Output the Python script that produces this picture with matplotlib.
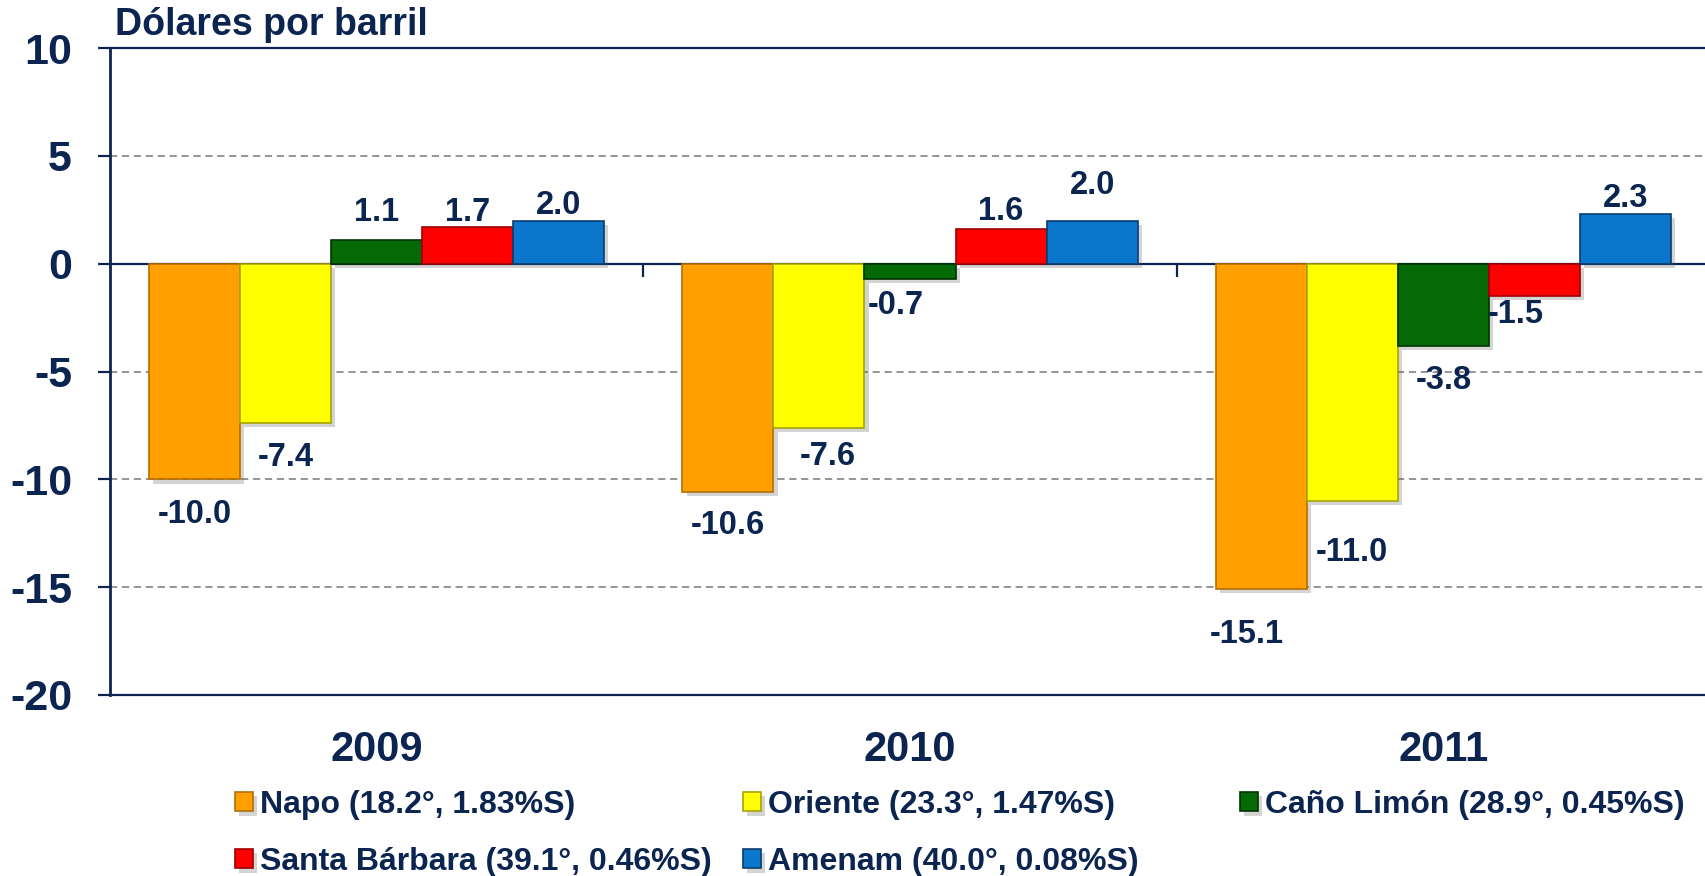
import matplotlib.pyplot as plt
import matplotlib.patheffects as pe
import numpy as np

plt.rcParams['font.family'] = ['Liberation Sans', 'DejaVu Sans']
plt.rcParams['font.weight'] = 'bold'

# data (USD per barrel, differential vs reference)
years = ['2009', '2010', '2011']
crudes = ['Napo (18.2°, 1.83%S)', 'Oriente (23.3°, 1.47%S)',
          'Caño Limón (28.9°, 0.45%S)', 'Santa Bárbara (39.1°, 0.46%S)',
          'Amenam (40.0°, 0.08%S)']
napo = [-10.0, -10.6, -15.1]
oriente = [-7.4, -7.6, -11.0]
cano_limon = [1.1, -0.7, -3.8]
santa_barbara = [1.7, 1.6, -1.5]
amenam = [2.0, 2.0, 2.3]
series = [napo, oriente, cano_limon, santa_barbara, amenam]

# styling
navy = '#0b2550'
colors = ['#ffa000', '#ffff00', '#056905', '#ff0000', '#0a76cc']
edges = ['#b36f00', '#a5a500', '#003300', '#a00000', '#0a3d6e']

# label nudges in pixels: (dx, distance of baseline from bar end)
nudges = [
    [(0, 44), (0, 42), (-14, 54)],
    [(0, 43), (9, 37), (0, 60)],
    [(0, 19), (-14, 35), (0, 43)],
    [(0, 6), (0, 9), (-19, 27)],
    [(0, 7), (0, 27), (0, 7)],
]

W, H = 1705, 876
fig = plt.figure(figsize=(W / 100, H / 100), dpi=100)
ax = fig.add_axes([110 / W, 1 - 695 / H, 1600 / W, (695 - 48) / H])

x = np.arange(len(years))
w = 91 / 533
handles = []
for j, vals in enumerate(series):
    pos = x + (j - 2) * w
    bc = ax.bar(pos, vals, width=w, color=colors[j], edgecolor=edges[j],
                linewidth=1.2, zorder=3)
    for p in bc.patches:
        p.set_path_effects([pe.SimplePatchShadow(offset=(3, -3), alpha=0.25,
                                                 shadow_rgbFace='#555555'),
                            pe.Normal()])
    handles.append(bc)
    for i, v in enumerate(vals):
        dx, dy = nudges[j][i]
        off = dy if v > 0 else -dy
        ax.annotate(f'{v:.1f}', (pos[i], v), xytext=(dx, off),
                    textcoords='offset pixels', ha='center', va='baseline',
                    fontsize=23.5, color=navy, fontweight='bold', zorder=5)

ax.set_xlim(-0.5, 2.5)
ax.set_ylim(-20, 10)
ax.set_yticks(np.arange(-20, 11, 5))
ax.set_yticklabels([str(t) for t in range(-20, 11, 5)])
for g in [-15, -10, -5, 5]:
    ax.axhline(g, color='#8c8c8c', lw=1.3, ls=(0, (4, 2.6)), zorder=1)
ax.axhline(-20, color=navy, lw=1.6, clip_on=False, zorder=2)

ax.spines['right'].set_visible(False)
ax.spines['top'].set_color(navy)
ax.spines['top'].set_linewidth(1.6)
ax.spines['left'].set_color(navy)
ax.spines['left'].set_linewidth(2)
ax.spines['bottom'].set_position(('data', 0))
ax.spines['bottom'].set_color(navy)
ax.spines['bottom'].set_linewidth(1.6)
ax.spines['bottom'].set_zorder(2)

ax.set_xticks([0.5, 1.5])
ax.set_xticklabels([])
ax.tick_params(axis='x', direction='out', length=9.4, width=1.6, color=navy)
ax.tick_params(axis='y', direction='out', length=8.6, width=1.6, color=navy,
               pad=18.7, labelsize=31, labelcolor=navy)
for t in ax.get_yticklabels():
    t.set_fontweight('bold')

# category labels under the plot
for i, yr in enumerate(years):
    ax.text(i, -0.102, yr, transform=ax.get_xaxis_transform(), ha='center',
            va='baseline', fontsize=30, color=navy, fontweight='bold')

fig.text(115 / W, 1 - 35 / H, 'Dólares por barril', va='baseline',
         fontsize=27, color=navy, fontweight='bold')

# legend entries placed like the original
leg_pos = [(235, 805), (743, 805), (1240, 805), (235, 862), (743, 862)]
for bc, name, (lx, ly) in zip(handles, crudes, leg_pos):
    fig.legend([bc], [name], loc='center left',
               bbox_to_anchor=(lx / W, 1 - ly / H), frameon=False,
               prop={'size': 23, 'weight': 'bold'}, labelcolor=navy,
               handlelength=0.56, handleheight=0.56, handletextpad=0.22,
               borderpad=0, borderaxespad=0)

fig.savefig('out.png', dpi=100)
